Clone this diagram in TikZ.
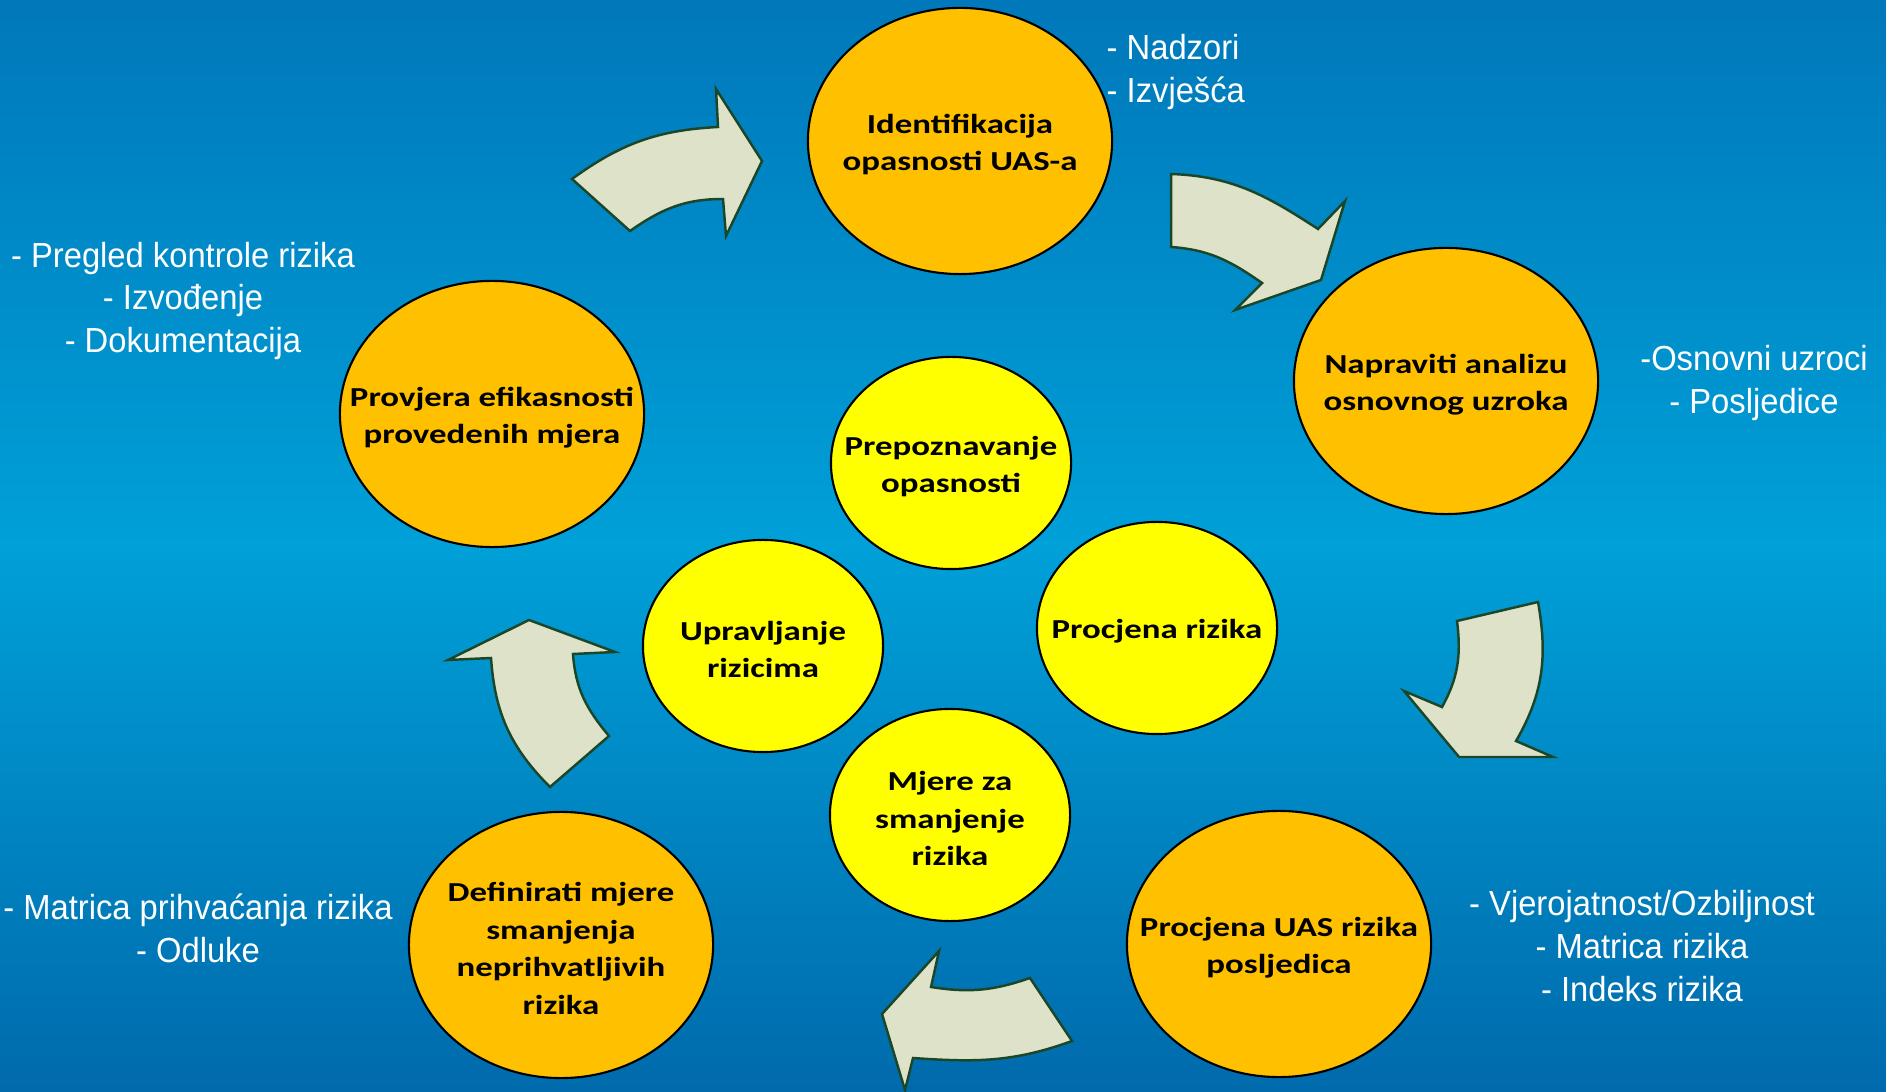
\documentclass[tikz,border=0pt]{standalone}
\usepackage{fontspec}
\usetikzlibrary{shapes.geometric}
\newfontfamily\boxfont{Carlito}[FakeStretch=1.27]
\newfontfamily\notefont{Liberation Sans}[FakeStretch=0.94]
\definecolor{bgtop}{RGB}{0,120,186}
\definecolor{bgmid}{RGB}{0,160,216}
\definecolor{bgbot}{RGB}{0,106,172}
\definecolor{stepfill}{RGB}{255,192,0}
\definecolor{corefill}{RGB}{255,255,0}
\definecolor{arrowfill}{RGB}{221,226,201}
\definecolor{arrowline}{RGB}{28,70,40}

\tikzset{
    steptext/.style={align=center, inner sep=0pt, yshift=-1pt,
        font=\boxfont\bfseries\fontsize{7.8}{10.7}\selectfont},
    stepnode/.style={ellipse, draw=black, line width=0.6pt, fill=stepfill,
        minimum width=3.04cm, minimum height=2.66cm, inner sep=0pt,
        label={[steptext]center:#1}},
    corenode/.style={stepnode={#1}, fill=corefill, minimum width=2.40cm, minimum height=2.12cm},
    blockarrow/.style={fill=arrowfill, draw=arrowline, line width=0.7pt, line join=miter},
    note/.style={text=white, align=center, inner sep=0pt,
        font=\notefont\fontsize{9.9}{12.2}\selectfont}
}

\begin{document}
\begin{tikzpicture}[x=0.01cm,y=0.01cm]
    \useasboundingbox (0,0) rectangle (1886,1091);
    \shade[top color=bgtop, bottom color=bgbot, middle color=bgmid] (0,0) rectangle (1886,1091);

    \node[stepnode={Identifikacija\\opasnosti UAS-a}] (idf) at (960,950) {};
    \node[stepnode={Napraviti analizu\\osnovnog uzroka}] (rca) at (1446,710) {};
    \node[stepnode={Procjena UAS rizika\\posljedica}] (uas) at (1279,147) {};
    \node[stepnode={Definirati mjere\\smanjenja\\neprihvatljivih\\rizika}] (mjr) at (561,146) {};
    \node[stepnode={Provjera efikasnosti\\provedenih mjera}] (prv) at (492,677) {};

    \node[corenode={Prepoznavanje\\opasnosti}] (prep) at (951,628) {};
    \node[corenode={Procjena rizika}] (proc) at (1157,463) {};
    \node[corenode={Mjere za\\smanjenje\\rizika}] (mjz) at (950,276) {};
    \node[corenode={Upravljanje\\rizicima}] (upr) at (763,445) {};

    \filldraw[blockarrow] (572,912) -- (630,860)
        to[out=35,in=180] (723,892) -- (726,855) -- (762,930) -- (716,1002) -- (718,964)
        to[out=183,in=36] cycle;
    \filldraw[blockarrow] (1171,917)
        to[out=-2,in=147] (1318,862) -- (1345,890) -- (1321,811) -- (1235,781) -- (1262,808)
        to[out=145,in=-4] (1171,844) -- cycle;
    \filldraw[blockarrow] (1457,470) -- (1538,489)
        to[out=-80,in=60] (1516,350) -- (1553,334) -- (1459,334) -- (1404,400) -- (1442,384)
        to[out=61,in=-83] cycle;
    \filldraw[blockarrow] (1030,113) -- (1072,50)
        to[out=200,in=-4] (913,33) -- (905,1) -- (882,77) -- (939,140) -- (931,104)
        to[out=-9,in=199] cycle;
    \filldraw[blockarrow] (550,304) -- (609,355)
        to[out=130,in=-86] (573,437) -- (615,439) -- (529,471) -- (448,431) -- (491,433)
        to[out=-86,in=135] cycle;

    \node[note, align=left, anchor=west] (n1) at (1106,1019) {- Nadzori\\- Izvješća};
    \node[note] (n2) at (1754,708) {-Osnovni uzroci\\- Posljedice};
    \node[note] (n3) at (183,790) {- Pregled kontrole rizika\\- Izvođenje\\- Dokumentacija};
    \node[note] (n4) at (1642,145) {- Vjerojatnost/Ozbiljnost\\- Matrica rizika\\- Indeks rizika};
    \node[note] (n5) at (198,163) {- Matrica prihvaćanja rizika\\- Odluke};
\end{tikzpicture}
\end{document}
